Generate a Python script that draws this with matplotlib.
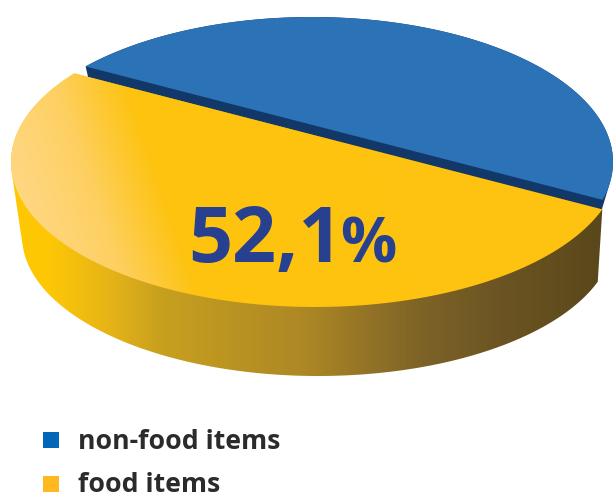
import numpy as np
import matplotlib
matplotlib.use("Agg")
import matplotlib.pyplot as plt
from matplotlib.colors import LinearSegmentedColormap
from matplotlib.patches import Polygon, Rectangle

categories = ["non-food items", "food items"]
shares = [47.9, 52.1]
legend_colors = ["#0066B8", "#FFB81F"]

W, H = 613, 494
fig = plt.figure(figsize=(W / 100, H / 100), dpi=100)
ax = fig.add_axes([0, 0, 1, 1])
ax.axis("off")

NONFOOD_TOP = (312, 162, 301, 145)
NONFOOD_BOTTOM = (312, 198, 290, 145)
FOOD_TOP = (315, 162, 304, 145)
FOOD_BOTTOM = (318, 236, 296, 140)
TILT = 0.11          # perspective shift of the disc centre
START = 147.5        # angle where the food slice begins
GAP = 3.8            # angular inset of the raised slice


def project(deg, ell):
    """Map disc angles onto an ellipse, with a perspective shift."""
    t = np.radians(deg)
    x, y = np.cos(t), np.sin(t)
    den = 1 + TILT * y
    xp = x * np.sqrt(1 - TILT ** 2) / den
    yp = (y + TILT) / den
    cx, cy, a, b = ell
    return np.column_stack([cx + a * xp, cy - b * yp])


def hull(points):
    """Convex outline of a slice's top and bottom faces."""
    pts = sorted(map(tuple, points))

    def half(seq):
        out = []
        for p in seq:
            while len(out) > 1 and ((out[-1][0] - out[-2][0]) * (p[1] - out[-2][1])
                                    - (out[-1][1] - out[-2][1]) * (p[0] - out[-2][0])) <= 0:
                out.pop()
            out.append(p)
        return out[:-1]

    return np.array(half(pts) + half(pts[::-1]))


food_span = shares[1] * 3.6
food_angles = np.linspace(START, START + food_span, 240)
nonfood_span = shares[0] * 3.6
nonfood_angles = np.linspace(START + food_span + GAP,
                             START + food_span + nonfood_span - GAP, 240)


def gradient_fill(points, stops, slant=0.0, shift=0.0):
    """Fill a polygon with a left-to-right colour ramp."""
    cmap = LinearSegmentedColormap.from_list("ramp", stops)
    xs, ys = np.meshgrid(np.arange(0, W, 2.0), np.arange(0, H, 2.0))
    im = ax.imshow((xs - slant * ys + shift) / W, cmap=cmap, vmin=0, vmax=1,
                   extent=(0, W, H, 0), aspect="auto", interpolation="bilinear",
                   zorder=2)
    im.set_clip_path(Polygon(points, closed=True, transform=ax.transData))


# Raised non-food slice: side wall and cut face, then its top
nf_top = project(nonfood_angles, NONFOOD_TOP)
nf_low = project(nonfood_angles, NONFOOD_BOTTOM)
ax.add_patch(Polygon(hull(np.vstack([nf_top, nf_low])), color="#12386A", lw=0, zorder=1))
ax.add_patch(Polygon(nf_top, color="#2B72B6", lw=0, zorder=1.5))

# Food slice: shaded wall, then the top face with a highlight on the left
f_top = project(food_angles, FOOD_TOP)
f_low = project(food_angles, FOOD_BOTTOM)
gradient_fill(hull(np.vstack([f_top, f_low])),
              [(0.0, "#FFC800"), (0.08, "#FDC706"), (0.18, "#E5B318"), (0.26, "#C8A01F"),
               (0.5, "#AC8725"), (0.68, "#7F6427"), (0.82, "#6B5423"), (1.0, "#584619")])
gradient_fill(f_top,
              [(0.0, "#FED67E"), (0.07, "#FED67E"), (0.17, "#FED062"), (0.29, "#FDC30F"),
               (1.0, "#FDC311")],
              slant=0.34, shift=80)

# Share of the food slice, printed on its top face
ax.text(188, 262, f"{shares[1]:.1f}".replace(".", ","), family="Open Sans", weight="bold",
        fontsize=55.5, color="#27408F", va="baseline", ha="left", zorder=5)
ax.text(340, 262, "%", family="Open Sans", weight="bold",
        fontsize=45, color="#27408F", va="baseline", ha="left", zorder=5)

# Legend
for name, color, top, base in zip(categories, legend_colors, [432, 476], [449, 492]):
    ax.add_patch(Rectangle((43, top), 16, 16, color=color, lw=0, zorder=5))
    ax.text(78, base, name, family="Open Sans", weight="bold", fontsize=19.2,
            color="#2B2B2B", va="baseline", ha="left", zorder=5)

ax.set_xlim(0, W)
ax.set_ylim(H, 0)
fig.savefig("out.png", dpi=100, facecolor="white")
